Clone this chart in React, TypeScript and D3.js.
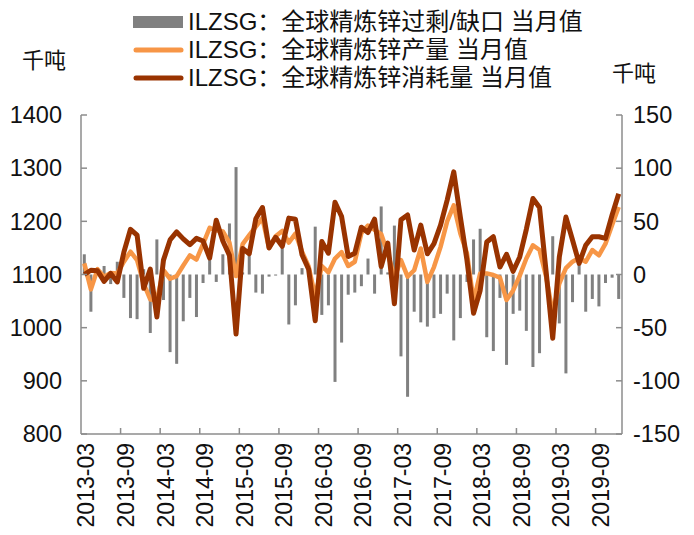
import React from "react";
import * as d3 from "d3";

const months = [
  "2013-03","2013-04","2013-05","2013-06","2013-07","2013-08","2013-09","2013-10","2013-11","2013-12",
  "2014-01","2014-02","2014-03","2014-04","2014-05","2014-06","2014-07","2014-08","2014-09","2014-10","2014-11","2014-12",
  "2015-01","2015-02","2015-03","2015-04","2015-05","2015-06","2015-07","2015-08","2015-09","2015-10","2015-11","2015-12",
  "2016-01","2016-02","2016-03","2016-04","2016-05","2016-06","2016-07","2016-08","2016-09","2016-10","2016-11","2016-12",
  "2017-01","2017-02","2017-03","2017-04","2017-05","2017-06","2017-07","2017-08","2017-09","2017-10","2017-11","2017-12",
  "2018-01","2018-02","2018-03","2018-04","2018-05","2018-06","2018-07","2018-08","2018-09","2018-10","2018-11","2018-12",
  "2019-01","2019-02","2019-03","2019-04","2019-05","2019-06","2019-07","2019-08","2019-09","2019-10","2019-11","2019-12",
];

// 过剩/缺口 (右轴)
const surplus = [
  19, -35, 3, 8, -9, 12, -22, -41, -42, 5,
  -55, 33, -24, -73, -84, -44, -22, -40, -8, 14, -7, 19,
  48, 101, 2, 21, -17, -18, -2, -1, 25, -47, -29, 6,
  2, 45, -38, -29, -101, -64, -19, -17, -11, 15, -18, 64,
  2, 46, -77, -115, -35, -45, -49, -41, -37, -18, -62, -41,
  -7, 33, 43, -59, -72, -22, -85, -37, -34, -53, -87, -74,
  -3, 36, -46, -93, -26, 14, -35, -23, -30, -8, -3, -23,
];

// 产量 (左轴)
const production = [
  1121, 1072, 1110, 1096, 1103, 1102, 1124, 1143, 1127, 1083,
  1053, 1052, 1108, 1092, 1097, 1117, 1136, 1128, 1157, 1188, 1183, 1181,
  1160, 1097, 1157, 1174, 1190, 1206, 1150, 1172, 1182, 1160, 1177, 1143,
  1115, 1058, 1116, 1104, 1130, 1142, 1116, 1124, 1178, 1192, 1184, 1176,
  1140, 1095, 1127, 1096, 1108, 1149, 1086, 1114, 1152, 1200, 1230, 1177,
  1140, 1050, 1102, 1102, 1099, 1094, 1052, 1070, 1098, 1130, 1155, 1146,
  1096, 1027, 1083, 1112, 1124, 1131, 1124, 1146, 1136, 1158, 1193, 1227,
];

// 消耗量 (左轴)
const consumption = [
  1100, 1108, 1107, 1087, 1102, 1086, 1142, 1185, 1174, 1074,
  1110, 1020, 1127, 1165, 1180, 1167, 1156, 1168, 1163, 1131, 1202, 1163,
  1136, 988, 1149, 1139, 1205, 1226, 1150, 1170, 1153, 1206, 1204, 1137,
  1110, 1013, 1162, 1140, 1236, 1209, 1134, 1140, 1189, 1179, 1204, 1115,
  1159, 1045, 1203, 1212, 1146, 1193, 1139, 1158, 1193, 1240, 1293, 1208,
  1127, 1027, 1070, 1161, 1171, 1114, 1138, 1106, 1133, 1185, 1243, 1226,
  1105, 980, 1133, 1208, 1165, 1121, 1155, 1171, 1171, 1168, 1212, 1252,
];

const leftTicks = [800, 900, 1000, 1100, 1200, 1300, 1400];
const rightTicks = [-150, -100, -50, 0, 50, 100, 150];
const xLabels = [
  "2013-03","2013-09","2014-03","2014-09","2015-03","2015-09","2016-03",
  "2016-09","2017-03","2017-09","2018-03","2018-09","2019-03","2019-09",
];
const legendLabels = [
  "ILZSG：全球精炼锌过剩/缺口 当月值",
  "ILZSG：全球精炼锌产量 当月值",
  "ILZSG：全球精炼锌消耗量 当月值",
];
const unitLabel = "千吨";

const FONT = "'Liberation Sans', Arial, 'Noto Sans CJK SC', sans-serif";
const GRAY = "#808080";
const ORANGE = "#F79646";
const BROWN = "#993300";
const AXIS = "#8c8c8c";

export default function App() {
  const W = 694, H = 535;
  const x0 = 81, x1 = 622, yT = 115, yB = 434;

  const x = d3.scaleBand<string>().domain(months).range([x0, x1]).padding(0);
  const bw = x.bandwidth();
  const cx = (m: string) => (x(m) as number) + bw / 2;
  const yL = d3.scaleLinear().domain([800, 1400]).range([yB, yT]);
  const yR = d3.scaleLinear().domain([-150, 150]).range([yB, yT]);

  const line = d3
    .line<number>()
    .x((_, i) => cx(months[i]))
    .y((d) => yL(d))
    .curve(d3.curveLinear);

  const barW = 3;
  const tickIdx = months.map((_, i) => i).filter((i) => i > 0 && i % 6 === 0);

  return (
    <svg
      width={W}
      height={H}
      style={{ position: "absolute", left: 0, top: 0, background: "#fff" }}
      fontFamily={FONT}
    >
      {/* legend */}
      <g>
        <rect x={133} y={16} width={50} height={12} fill={GRAY} />
        <line x1={136} x2={181} y1={50} y2={50} stroke={ORANGE} strokeWidth={5} strokeLinecap="round" />
        <line x1={136} x2={181} y1={78} y2={78} stroke={BROWN} strokeWidth={5} strokeLinecap="round" />
        {legendLabels.map((t, i) => (
          <text key={t} x={188} y={22 + i * 28} dy="0.35em" fontSize={24} fill="#111">
            {t}
          </text>
        ))}
      </g>

      <text x={22} y={60} dy="0.35em" fontSize={22} fill="#111">{unitLabel}</text>
      <text x={612} y={73} dy="0.35em" fontSize={22} fill="#111">{unitLabel}</text>

      {/* bars */}
      <g>
        {surplus.map((v, i) => (
          <rect
            key={months[i]}
            x={cx(months[i]) - barW / 2}
            y={yR(Math.max(0, v))}
            width={barW}
            height={Math.abs(yR(v) - yR(0))}
            fill={GRAY}
          />
        ))}
      </g>

      {/* lines */}
      <path d={line(production) || ""} fill="none" stroke={ORANGE} strokeWidth={4.5} strokeLinejoin="round" />
      <path d={line(consumption) || ""} fill="none" stroke={BROWN} strokeWidth={5} strokeLinejoin="round" />

      {/* axes */}
      <g stroke={AXIS} strokeWidth={1.5} fill="none">
        <line x1={x0} x2={x0} y1={yT} y2={yB} />
        <line x1={x1} x2={x1} y1={yT} y2={yB} />
        <line x1={x0} x2={x1} y1={yB} y2={yB} />
        {leftTicks.map((t) => (
          <line key={"l" + t} x1={x0} x2={x0 + 6} y1={yL(t)} y2={yL(t)} />
        ))}
        {rightTicks.map((t) => (
          <line key={"r" + t} x1={x1 - 6} x2={x1} y1={yR(t)} y2={yR(t)} />
        ))}
        {tickIdx.map((i) => (
          <line key={"b" + i} x1={x(months[i]) as number} x2={x(months[i]) as number} y1={yB} y2={yB - 6} />
        ))}
      </g>

      {leftTicks.map((t) => (
        <text key={"lt" + t} x={62} y={yL(t)} dy="0.35em" textAnchor="end" fontSize={23.5} fill="#111">
          {t}
        </text>
      ))}
      {rightTicks.map((t) => (
        <text key={"rt" + t} x={633} y={yR(t)} dy="0.35em" textAnchor="start" fontSize={23.5} fill="#111">
          {t}
        </text>
      ))}
      {xLabels.map((m) => (
        <text
          key={"xl" + m}
          transform={`translate(${cx(m) + 2},${yB + 9}) rotate(-90)`}
          dy="0.35em"
          textAnchor="end"
          fontSize={23}
          fill="#111"
        >
          {m}
        </text>
      ))}
    </svg>
  );
}
